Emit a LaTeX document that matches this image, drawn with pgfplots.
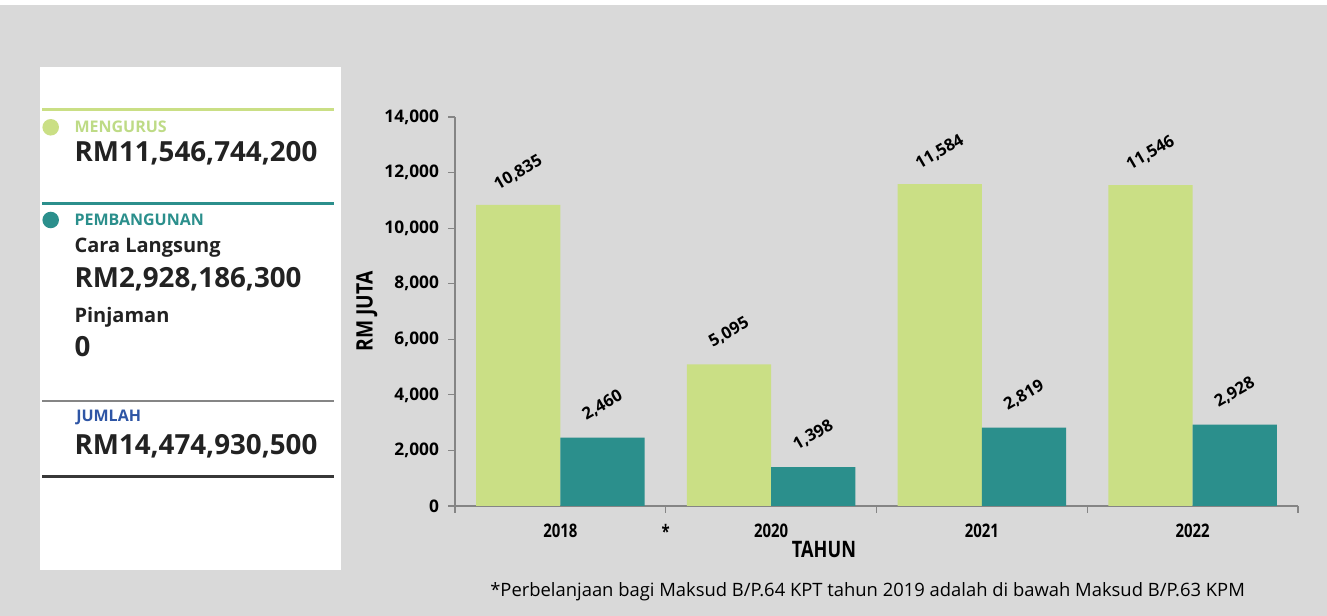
\documentclass[border=0pt]{standalone}
\usepackage{pgfplots}
\pgfplotsset{compat=1.18}
\usepackage{fontspec}
\setmainfont{Open Sans}
\newfontfamily\cond[FakeStretch=0.8]{Open Sans}
\newfontfamily\semicond[FakeStretch=0.85]{Open Sans}
\definecolor{bg}{HTML}{D9D9D9}
\definecolor{lgreen}{HTML}{CADF85}
\definecolor{lgreentxt}{HTML}{BEDB86}
\definecolor{teal}{HTML}{2B8F8C}
\definecolor{jblue}{HTML}{2E55A5}
\definecolor{ink}{HTML}{222222}
\definecolor{axgray}{HTML}{858585}
\begin{document}
\begin{tikzpicture}
\fill[bg] (0pt,0pt) rectangle (995.25pt,462pt);
\fill[white] (0pt,458.25pt) rectangle (995.25pt,462pt);
\begin{scope}[x=0.75pt,y=-0.75pt,yshift=462pt]
\fill[white] (40,67) rectangle (341,570);
\draw[lgreen, line width=2.25pt] (42,110) -- (334,110);
\draw[teal, line width=2.25pt] (42,203.5) -- (334,203.5);
\draw[axgray, line width=1.1pt] (42,401) -- (334,401);
\draw[ink!90, line width=2pt] (42,476.7) -- (334,476.7);
\fill[lgreen] (50.7,127.3) circle (6.2pt);
\fill[teal] (50.7,220) circle (6.2pt);
\node[anchor=base west, inner sep=0pt, text=lgreentxt, font=\bfseries\fontsize{12}{12}\selectfont] at (74.3,133) {MENGURUS};
\node[anchor=base west, inner sep=0pt, text=ink, font=\bfseries\fontsize{20.8}{20.8}\selectfont] at (74.3,162) {RM11,546,744,200};
\node[anchor=base west, inner sep=0pt, text=teal, font=\bfseries\fontsize{12}{12}\selectfont] at (74.3,226) {PEMBANGUNAN};
\node[anchor=base west, inner sep=0pt, text=ink, font=\bfseries\fontsize{15}{15}\selectfont] at (74.3,253) {Cara Langsung};
\node[anchor=base west, inner sep=0pt, text=ink, font=\bfseries\fontsize{20.8}{20.8}\selectfont] at (74.3,288) {RM2,928,186,300};
\node[anchor=base west, inner sep=0pt, text=ink, font=\bfseries\fontsize{15}{15}\selectfont] at (74.3,323) {Pinjaman};
\node[anchor=base west, inner sep=0pt, text=ink, font=\bfseries\fontsize{20.8}{20.8}\selectfont] at (74.3,357) {0};
\node[anchor=base west, inner sep=0pt, text=jblue, font=\bfseries\fontsize{12}{12}\selectfont] at (76,422) {JUMLAH};
\node[anchor=base west, inner sep=0pt, text=ink, font=\bfseries\fontsize{20.8}{20.8}\selectfont] at (74.3,455) {RM14,474,930,500};
\node[anchor=base west, inner sep=0pt, text=black, font=\fontsize{13.8}{13.8}\selectfont] at (490,597) {*Perbelanjaan bagi Maksud B/P.64 KPT tahun 2019 adalah di bawah Maksud B/P.63 KPM};
\end{scope}
\begin{axis}[
  at={(341.25pt,82.5pt)}, anchor=south west,
  width=632.25pt, height=291.75pt, scale only axis,
  xmin=-0.5, xmax=3.5, ymin=0, ymax=14000,
  axis x line*=bottom, axis y line*=left,
  axis line style={draw=axgray, line width=0.9pt, -},
  ybar, bar width=0.4,
  scaled y ticks=false,
  /pgf/number format/1000 sep={,},
  /pgf/number format/fixed,
  /pgf/number format/assume math mode=true,
  ytick={0,2000,...,14000},
  yticklabel style={font=\bfseries\fontsize{13}{13}\selectfont, xshift=-3.5pt},
  xtick={-0.5,0.5,1.5,2.5,3.5},
  xticklabels={,*,,,},
  extra x ticks={0,1,2,3},
  extra x tick labels={2018,2020,2021,2022},
  extra x tick style={tick style={draw=none}},
  xticklabel style={font=\cond\bfseries\fontsize{14}{14}\selectfont, anchor=north, yshift=-5pt},
  tick align=outside,
  major tick length=5pt,
  tick style={draw=axgray, line width=0.9pt},
  xlabel={TAHUN},
  xlabel style={at={(axis description cs:0.4377,0)}, anchor=center, yshift=-32.5pt, font=\cond\bfseries\fontsize{17}{17}\selectfont},
  ylabel={RM JUTA},
  ylabel style={at={(axis description cs:-0.1044,0.5)}, anchor=center, font=\semicond\bfseries\fontsize{17}{17}\selectfont},
  nodes near coords,
  every node near coord/.append style={font=\bfseries\fontsize{12.5}{12.5}\selectfont, anchor=center, yshift=24pt, rotate=30},
]
\addplot[fill=lgreen, draw=none, bar shift=-0.2] coordinates {(0,10835) (1,5095) (2,11584) (3,11546)};
\addplot[fill=teal, draw=none, bar shift=0.2] coordinates {(0,2460) (1,1398) (2,2819) (3,2928)};
\end{axis}
\end{tikzpicture}
\end{document}
